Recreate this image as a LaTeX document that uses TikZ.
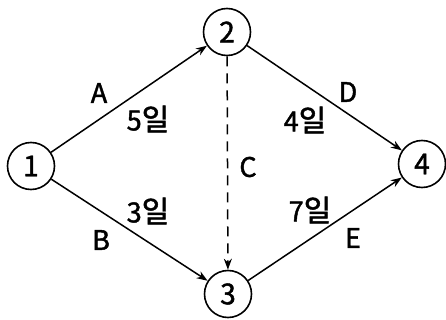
\documentclass[tikz,border=0pt]{standalone}
\usepackage{fontspec}
\setmainfont{Noto Sans CJK KR}
\font\lblF="Noto Sans CJK KR:embolden=1.6" at 27pt
\font\ilF="Noto Sans CJK KR:embolden=1.6" at 30pt
\font\numF="Noto Sans CJK KR:embolden=1.6" at 28pt
\newcommand{\il}{{\ilF 일}}
\usetikzlibrary{arrows.meta}
\begin{document}
\begin{tikzpicture}[x=1pt,y=-1pt,
  ev/.style={circle,draw,line width=1.6pt,minimum size=47pt,inner sep=0pt,font=\numF},
  act/.style={line width=1.5pt,-{Stealth[length=11pt,width=8pt]}},
  lbl/.style={font=\lblF,inner sep=0pt}]
\useasboundingbox (0,0) rectangle (446,320);
\node[ev] (n1) at (31,166) {1};
\node[ev] (n2) at (227,32) {2};
\node[ev] (n3) at (228,294) {3};
\node[ev] (n4) at (422,164) {4};
\draw[act] (n1) -- (n2);
\draw[act] (n1) -- (n3);
\draw[act] (n2) -- (n4);
\draw[act] (n3) -- (n4);
\draw[act,dash pattern=on 10pt off 7pt] (n2) -- (n3);
\node[lbl] (la) at (99,93) {A};
\node[lbl] (l5) at (148,119) {5\il};
\node[lbl] (ld) at (348,92) {D};
\node[lbl] (l4) at (305,120) {4\il};
\node[lbl] (lc) at (248,167) {C};
\node[lbl] (l3) at (148,211) {3\il};
\node[lbl] (lb) at (101,240) {B};
\node[lbl] (l7) at (310,210) {7\il};
\node[lbl] (le) at (353,238) {E};
\end{tikzpicture}
\end{document}
